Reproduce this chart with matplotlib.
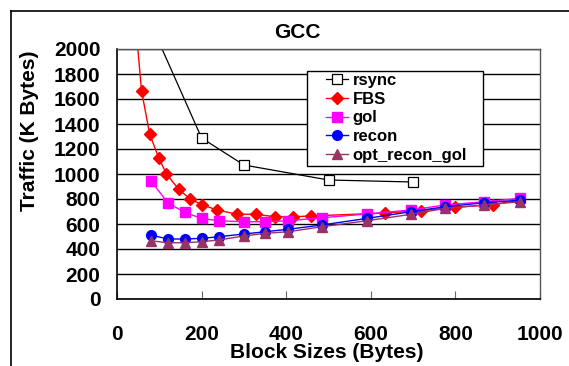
import matplotlib
matplotlib.use('Agg')
import matplotlib.pyplot as plt
from matplotlib.lines import Line2D
from matplotlib.patches import Rectangle

plt.rcParams['font.family'] = ['Liberation Sans', 'DejaVu Sans']
plt.rcParams['font.weight'] = 'bold'

# data
rsync_x = [100, 200, 300, 500, 700]
rsync_y = [2050, 1288, 1072, 952, 936]

fbs_x = [48, 58, 77, 99, 117, 146, 173, 202, 237, 284, 328, 373, 415, 458, 633, 718, 800, 888, 950]
fbs_y = [2050, 1666, 1322, 1125, 1000, 877, 800, 752, 712, 678, 678, 658, 658, 664, 688, 706, 734, 754, 790]

gol_x = [80, 120, 160, 200, 240, 300, 350, 405, 484, 591, 694, 776, 867, 952]
gol_y = [946, 770, 693, 645, 626, 618, 618, 626, 650, 680, 712, 752, 778, 805]

recon_x = [80, 120, 160, 200, 240, 300, 350, 405, 484, 591, 694, 776, 867, 952]
recon_y = [512, 480, 480, 485, 498, 520, 538, 558, 592, 645, 698, 738, 770, 790]

opt_x = [80, 120, 160, 200, 240, 300, 350, 405, 484, 591, 694, 776, 867, 952]
opt_y = [466, 450, 450, 458, 472, 504, 525, 538, 578, 626, 677, 725, 752, 778]

x_ticks = [0, 200, 400, 600, 800, 1000]
y_ticks = [0, 200, 400, 600, 800, 1000, 1200, 1400, 1600, 1800, 2000]

fig = plt.figure(figsize=(5.69, 3.66), dpi=100)
ax = fig.add_axes([117/569, 1-299/366, 423/569, 250/366])

ax.plot(rsync_x, rsync_y, color='black', lw=0.9, marker='s', ms=7,
        mfc='white', mec='black', mew=0.9, label='rsync')
ax.plot(fbs_x, fbs_y, color='red', lw=1, marker='D', ms=6,
        mfc='red', mec='red', label='FBS')
ax.plot(gol_x, gol_y, color='#FF00FF', lw=1, marker='s', ms=7.5,
        mfc='#FF00FF', mec='#FF00FF', label='gol')
ax.plot(recon_x, recon_y, color='blue', lw=1, marker='o', ms=7,
        mfc='blue', mec='blue', label='recon')
ax.plot(opt_x, opt_y, color='#993366', lw=1, marker='^', ms=7,
        mfc='#993366', mec='#993366', label='opt_recon_gol')

ax.set_xlim(0, 1000)
ax.set_ylim(0, 2000)
ax.set_xticks(x_ticks)
ax.set_yticks(y_ticks)
ax.yaxis.grid(True, color='black', lw=1)
ax.set_axisbelow(True)
ax.tick_params(axis='x', direction='in', length=6, color='#666666', pad=19, labelsize=15)
ax.tick_params(axis='y', direction='in', length=0, pad=12, labelsize=15)
for lab in ax.get_xticklabels() + ax.get_yticklabels():
    lab.set_fontweight('bold')
for s in ['left', 'bottom']:
    ax.spines[s].set_color('black')
    ax.spines[s].set_linewidth(1.2)
for s in ['right', 'top']:
    ax.spines[s].set_color('#555555')
    ax.spines[s].set_linewidth(1)

# legend box drawn separately to get the wide side padding
box = Rectangle(((307-117)/423, (299-166)/250), 176/423, 95/250,
                transform=ax.transAxes, facecolor='white', edgecolor='black',
                lw=1, zorder=4)
ax.add_patch(box)
leg = ax.legend(loc='upper left', bbox_to_anchor=((326-117)/423, (299-73)/250),
                frameon=False, fontsize=12, handlelength=1.3, handletextpad=0.3,
                labelspacing=0.22, borderpad=0, borderaxespad=0)
leg.set_zorder(5)
for t in leg.get_texts():
    t.set_fontweight('bold')

fig.text(297/569, 1-33/366, 'GCC', ha='center', va='center', fontsize=15, fontweight='bold')
fig.text(30/569, 1-131/366, 'Traffic (K Bytes)', ha='center', va='center',
         rotation=90, fontsize=15, fontweight='bold')
fig.text(327/569, 1-352/366, 'Block Sizes (Bytes)', ha='center', va='center',
         fontsize=15, fontweight='bold')

# outer frame
fig.add_artist(Line2D([11/569, 11/569], [0, 1-11/366], color='black', lw=1.2))
fig.add_artist(Line2D([11/569, 1], [1-11/366, 1-11/366], color='black', lw=1.2))

fig.savefig('out.png', dpi=100)
